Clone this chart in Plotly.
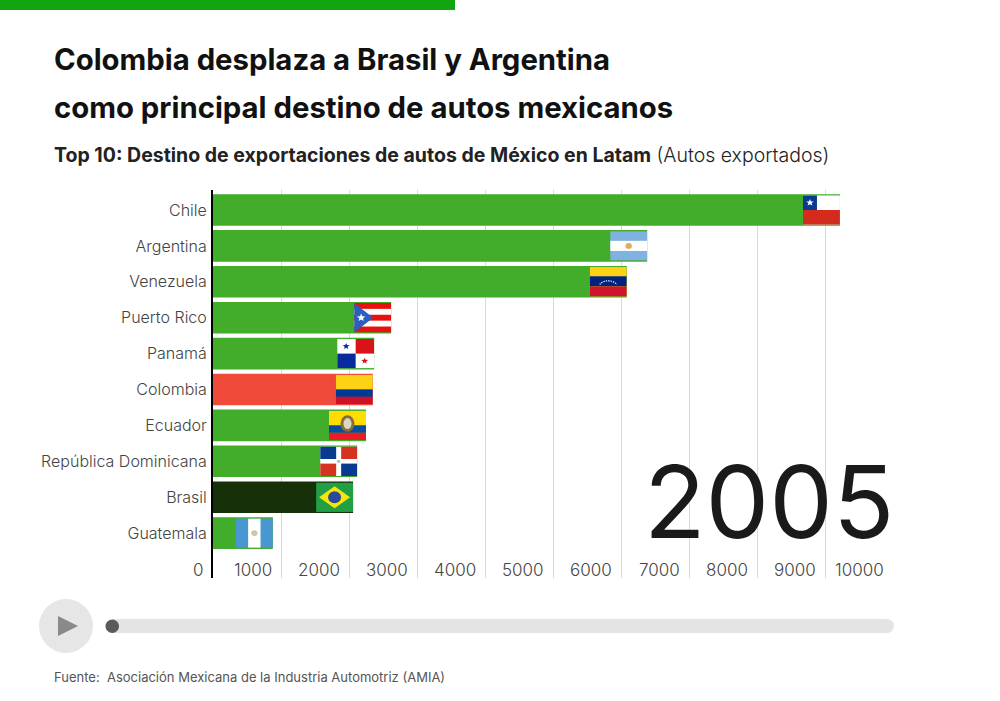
import base64
import math
import plotly.graph_objects as go

COUNTRIES = ["Chile", "Argentina", "Venezuela", "Puerto Rico", "Panamá", "Colombia",
             "Ecuador", "República Dominicana", "Brasil", "Guatemala"]
AUTOS = [9220, 6385, 6085, 2620, 2370, 2350, 2250, 2120, 2060, 880]
X_TICKS = [0, 1000, 2000, 3000, 4000, 5000, 6000, 7000, 8000, 9000, 10000]
YEAR = "2005"

GREEN = "#41AD2B"
BAR_COLORS = {"Colombia": "#F04B3A", "Brasil": "#163009"}
FONT = "Inter"
TEXT = "#444444"

def disc(cx, cy, r, fill):
    return f'<circle cx="{cx}" cy="{cy}" r="{r}" fill="{fill}"/>'

def star(cx, cy, r, fill):
    pts = []
    for k in range(10):
        rad = r if k % 2 == 0 else r * 0.42
        ang = -math.pi / 2 + k * math.pi / 5
        pts.append(f"{cx + rad * math.cos(ang):.2f},{cy + rad * math.sin(ang):.2f}")
    return f'<polygon points="{" ".join(pts)}" fill="{fill}"/>'

FLAGS = {
    "Chile": '<rect width="37" height="32" fill="#fff"/><rect y="16" width="37" height="16" fill="#D52B1E"/>'
             '<rect width="14" height="16" fill="#0A3A8F"/>' + star(7, 8, 4, "#fff"),
    "Argentina": '<rect width="37" height="32" fill="#7FB2E0"/><rect y="10.5" width="37" height="11" fill="#fff"/>'
                 + disc(18.5, 16, 3.2, "#E4A860"),
    "Venezuela": '<rect width="37" height="32" fill="#FCD116"/><rect y="10" width="37" height="11" fill="#00247D"/>'
                 '<rect y="21" width="37" height="11" fill="#CF142B"/>'
                 '<path d="M10 19 A9 6 0 0 1 27 19" fill="none" stroke="#fff" stroke-width="1.2" stroke-dasharray="1.4 1"/>',
    "Puerto Rico": '<rect width="37" height="32" fill="#E8110F"/><rect y="6.4" width="37" height="6.4" fill="#fff"/>'
                   '<rect y="19.2" width="37" height="6.4" fill="#fff"/><path d="M0 0 L19 16 L0 32Z" fill="#2A5FC0"/>'
                   + star(7, 16, 4.5, "#fff"),
    "Panamá": '<rect width="37" height="32" fill="#fff"/><rect x="18.5" width="18.5" height="16" fill="#DA121A"/>'
              '<rect y="16" width="18.5" height="16" fill="#072B9C"/>' + star(9, 8, 3.6, "#072B9C") + star(27.5, 24, 3.6, "#DA121A"),
    "Colombia": '<rect width="37" height="16" fill="#FCD116"/><rect y="16" width="37" height="8" fill="#003893"/>'
                '<rect y="24" width="37" height="8" fill="#CE1126"/>',
    "Ecuador": '<rect width="37" height="16" fill="#FFDD00"/><rect y="16" width="37" height="8" fill="#034EA2"/>'
               '<rect y="24" width="37" height="8" fill="#ED1C24"/>'
               '<ellipse cx="18.5" cy="14" rx="7" ry="9" fill="#8B6B3A"/><ellipse cx="18.5" cy="14" rx="4" ry="6" fill="#D9D8C0"/>',
    "República Dominicana": '<rect width="37" height="32" fill="#fff"/><rect width="16" height="13.5" fill="#0A3A8F"/>'
                            '<rect x="21" width="16" height="13.5" fill="#D5331F"/><rect y="18.5" width="16" height="13.5" fill="#D5331F"/>'
                            '<rect x="21" y="18.5" width="16" height="13.5" fill="#0A3A8F"/>' + disc(18.5, 16, 1.8, "#B9C4B0"),
    "Brasil": '<rect width="37" height="32" fill="#229E45"/><path d="M3 16 L18.5 4 L34 16 L18.5 28Z" fill="#F8E509"/>'
              + disc(18.5, 16, 6.5, "#2B4A9E"),
    "Guatemala": '<rect width="37" height="32" fill="#4997D0"/><rect x="12.3" width="12.4" height="32" fill="#fff"/>'
                 + disc(18.5, 16, 3.2, "#C9C8A8"),
}

def flag_uri(name):
    svg = ('<svg xmlns="http://www.w3.org/2000/svg" width="370" height="320" viewBox="0 0 37 32" '
           f'preserveAspectRatio="none">{FLAGS[name]}</svg>')
    return "data:image/svg+xml;base64," + base64.b64encode(svg.encode()).decode()

W, H = 1000, 701
PLOT_L, PLOT_R, PLOT_T, PLOT_B = 213, 893, 190, 578
BAND = 35.9
FIRST = 210

fx = lambda px: px / W
fy = lambda px: 1 - px / H

fig = go.Figure(go.Bar(
    y=COUNTRIES, x=AUTOS, orientation="h", width=0.88,
    marker=dict(color=[BAR_COLORS.get(c, GREEN) for c in COUNTRIES],
                line=dict(width=0)),
    hoverinfo="y+x",
))

images = [dict(source=flag_uri(c), xref="x", yref="y", x=v, y=i, sizex=37 / 0.068, sizey=0.82,
               xanchor="right", yanchor="middle", sizing="stretch", layer="above")
          for i, (c, v) in enumerate(zip(COUNTRIES, AUTOS))]

def note(text, x, y, size, weight=400, color="#111111", anchor="left", **extra):
    return dict(text=text, xref="paper", yref="paper", x=fx(x), y=fy(y), xanchor=anchor, yanchor="middle",
                showarrow=False, font=dict(family=FONT, size=size, color=color, weight=weight), **extra)

annotations = [
    note("Colombia desplaza a Brasil y Argentina", 51.5, 60, 29.3, 700),
    note("como principal destino de autos mexicanos", 51.5, 108, 29.3, 700),
    note('<b>Top 10: Destino de exportaciones de autos de México en Latam</b> '
         '<span style="font-weight:300">(Autos exportados)</span>', 51.5, 155, 19.5, 400, "#222222"),
    note("Fuente:  Asociación Mexicana de la Industria Automotriz (AMIA)", 51.5, 677, 13, 400, "#555555"),
    note(YEAR, 769, 501, 101, 400, "#1a1a1a", "center", height=84),
]
annotations += [
    dict(text=str(t), xref="x", yref="paper", x=t, y=fy(570), xanchor="right", yanchor="middle", xshift=-7,
         showarrow=False, font=dict(family=FONT, size=17, color=TEXT, weight=300))
    for t in X_TICKS
]

shapes = [
    dict(type="rect", xref="paper", yref="paper", x0=0, x1=fx(455), y0=fy(10), y1=1, fillcolor="#12A510", line_width=0),
    dict(type="circle", xref="paper", yref="paper", x0=fx(39), x1=fx(93), y0=fy(653), y1=fy(599), fillcolor="#E6E6E6", line_width=0),
    dict(type="path", xref="paper", yref="paper",
         path=f"M {fx(58)} {fy(616)} L {fx(78)} {fy(626)} L {fx(58)} {fy(636)} Z", fillcolor="#8A8A8A", line_width=0),
    dict(type="rect", xref="paper", yref="paper", x0=fx(112), x1=fx(887), y0=fy(633), y1=fy(619), fillcolor="#E4E4E4", line_width=0),
    dict(type="circle", xref="paper", yref="paper", x0=fx(880), x1=fx(894), y0=fy(633), y1=fy(619), fillcolor="#E4E4E4", line_width=0),
    dict(type="circle", xref="paper", yref="paper", x0=fx(105.5), x1=fx(119), y0=fy(633), y1=fy(619.5), fillcolor="#5A5A5A", line_width=0),
]

fig.update_layout(
    width=W, height=H, margin=dict(l=0, r=0, t=0, b=0), showlegend=False,
    paper_bgcolor="white", plot_bgcolor="white", bargap=0.12,
    images=images, annotations=annotations, shapes=shapes,
    xaxis=dict(domain=[fx(PLOT_L), fx(PLOT_R)], range=[0, 10000], tickmode="array", tickvals=X_TICKS,
               showticklabels=False, ticks="",
               showgrid=True, gridcolor="#D9D9D9", gridwidth=1, zeroline=False, showline=False, anchor="y"),
    yaxis=dict(domain=[fy(PLOT_B), fy(PLOT_T)],
               range=[(PLOT_B - FIRST) / BAND, (PLOT_T - FIRST) / BAND],
               categoryorder="array", categoryarray=COUNTRIES, showgrid=False, zeroline=False,
               showline=True, linecolor="#000000", linewidth=2, ticks="outside", ticklen=1, tickcolor="rgba(0,0,0,0)",
               tickfont=dict(family=FONT, size=16, color=TEXT, weight=300), anchor="x"),
)

fig.write_html("out.html", config={"displayModeBar": False},
               post_script="document.body.style.margin='0';document.body.style.overflow='hidden';")
